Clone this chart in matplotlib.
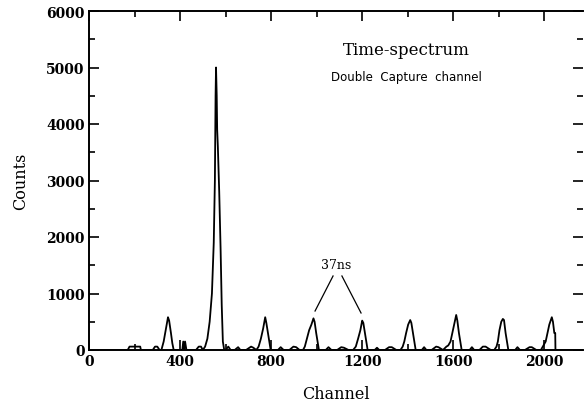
import matplotlib
matplotlib.use("Agg")
import matplotlib.pyplot as plt
from matplotlib.ticker import MultipleLocator

# Spectrum trace vertices (channel, counts)
channel = [0, 170, 178, 182, 225, 228, 240, 280, 290, 300, 310,
           318, 328, 338, 347, 352, 360, 366, 372, 385, 400, 410, 414, 418, 422, 428, 440,
           470, 482, 492, 500, 510, 520, 530, 540, 548, 553, 556, 558, 561, 563, 566, 572, 578, 583, 588, 594,
           600, 612, 622, 640, 655, 665, 690, 712, 722, 735,
           745, 755, 765, 774, 779, 786, 792, 798, 810, 830, 842, 855, 880, 898, 910, 925, 940, 948,
           957, 967, 977, 986, 991, 998, 1004, 1010, 1020, 1040, 1052, 1065, 1090, 1108, 1120, 1140, 1160,
           1172, 1182, 1192, 1200, 1205, 1212, 1218, 1224, 1235, 1255, 1265, 1275, 1300, 1318, 1330, 1350, 1368, 1378,
           1385, 1393, 1402, 1411, 1416, 1423, 1429, 1435, 1445, 1462, 1472, 1482, 1505, 1525, 1535, 1555, 1570, 1578,
           1588, 1596, 1604, 1613, 1618, 1625, 1631, 1637, 1648, 1672, 1682, 1692, 1715, 1730, 1742, 1765, 1780, 1790,
           1796, 1803, 1811, 1818, 1823, 1830, 1836, 1842, 1852, 1872, 1882, 1893, 1915, 1935, 1945, 1965, 1985, 1995,
           2006, 2014, 2022, 2033, 2038, 2044, 2048, 2049, 2060, 2180]
counts = [0, 0, 60, 60, 60, 0, 0, 0, 60, 60, 0,
          0, 150, 380, 580, 520, 300, 120, 0, 0, 0, 0, 150, 0, 150, 0, 0,
          0, 60, 60, 0, 60, 200, 500, 1000, 1900, 3000, 4500, 5000, 4500, 3900, 3600, 2800, 1800, 800, 150, 0,
          0, 60, 0, 0, 50, 0, 0, 60, 40, 0,
          60, 200, 380, 580, 480, 300, 150, 0, 0, 0, 50, 0, 0, 60, 50, 0, 0, 60,
          200, 350, 450, 560, 500, 300, 150, 0, 0, 0, 50, 0, 0, 50, 40, 0, 0,
          60, 200, 350, 520, 480, 300, 150, 0, 0, 0, 40, 0, 0, 50, 50, 0, 0, 60,
          150, 300, 450, 530, 480, 300, 150, 0, 0, 0, 50, 0, 0, 60, 50, 0, 60, 80,
          150, 300, 450, 620, 520, 300, 150, 0, 0, 0, 50, 0, 0, 60, 60, 0, 0, 60,
          150, 350, 500, 550, 530, 300, 150, 0, 0, 0, 50, 0, 0, 50, 50, 0, 0, 70,
          150, 300, 450, 580, 500, 300, 300, 0, 0, 0]

x_ticks = [0, 400, 800, 1200, 1600, 2000]
y_ticks = [0, 1000, 2000, 3000, 4000, 5000, 6000]

plt.rcParams['font.family'] = ['DejaVu Serif']

fig = plt.figure(figsize=(5.84, 4.06), dpi=100)
ax = fig.add_axes([89/584, 1-351/406, (583-89)/584, (351-12)/406])

ax.plot(channel, counts, color='black', lw=1.3)

ax.set_xlim(0, 2170)
ax.set_ylim(0, 6000)
ax.set_xticks(x_ticks)
ax.set_yticks(y_ticks)
ax.xaxis.set_minor_locator(MultipleLocator(200))
ax.yaxis.set_minor_locator(MultipleLocator(500))
ax.tick_params(which='both', direction='in', top=True, right=True, width=1.2)
ax.tick_params(which='major', length=7, labelsize=10, pad=3)
ax.tick_params(which='minor', length=4)
for lab in ax.get_xticklabels() + ax.get_yticklabels():
    lab.set_fontweight('bold')
for s in ['left', 'bottom', 'top']:
    ax.spines[s].set_linewidth(1.4)
ax.spines['right'].set_visible(False)

ax.set_xlabel('Channel', fontsize=11.5, labelpad=12)
ax.set_ylabel('Counts', fontsize=11.5, labelpad=12)

ax.text(1395, 5320, 'Time-spectrum', fontsize=12, ha='center', va='center')
ax.text(1395, 4840, 'Double  Capture  channel', fontsize=8.5, ha='center', va='center',
        family=['DejaVu Sans'])

ax.text(1085, 1520, '37ns', fontsize=9, ha='center', va='center')
ax.plot([1072, 993], [1310, 690], color='black', lw=0.9)
ax.plot([1111, 1195], [1310, 655], color='black', lw=0.9)

fig.savefig('out.png', dpi=100)
